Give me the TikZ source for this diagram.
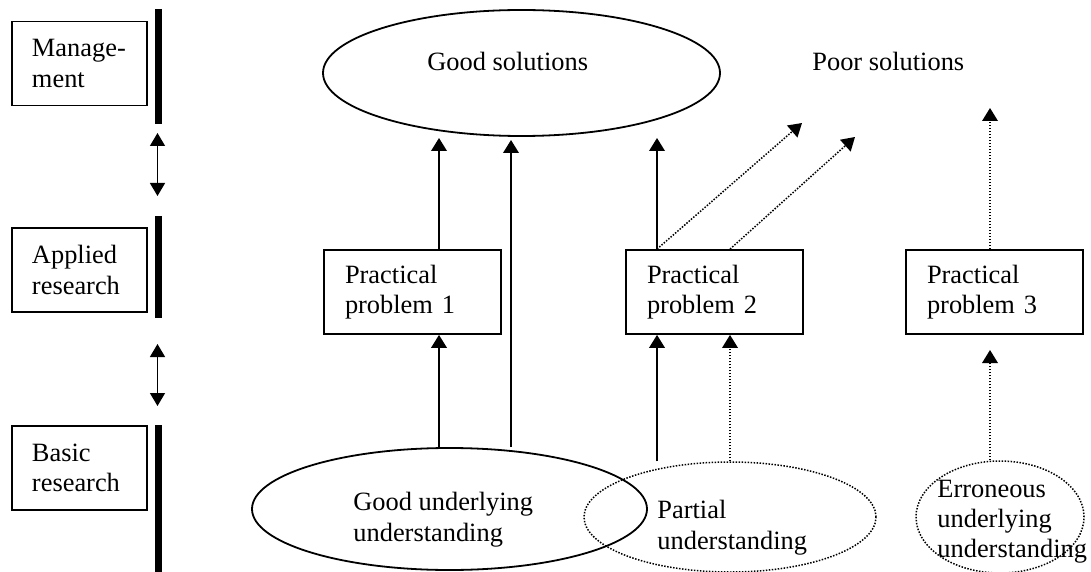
\documentclass[tikz,border=0pt]{standalone}
\usepackage{fontspec}
\setmainfont{Liberation Serif}
\usetikzlibrary{arrows.meta,shapes.geometric}
\begin{document}
\begin{tikzpicture}[x=0.5pt,y=-0.5pt,
  txt/.style={font=\fontsize{13.2}{15.2}\selectfont},
  lbox/.style={draw,line width=0.9pt,rectangle,txt,align=left,text width=47.5pt,inner xsep=10pt,inner ysep=0pt,minimum height=42pt},
  pbox/.style={draw,line width=0.9pt,rectangle,txt,align=left,text width=67.5pt,inner xsep=10.5pt,inner ysep=0pt,minimum height=42pt},
  ell/.style={draw,line width=0.9pt,ellipse,inner sep=0pt},
  dell/.style={ell,line width=0.75pt,dash pattern=on 0.75pt off 0.75pt},
  lbl/.style={txt,inner sep=0pt,align=left},
  tip/.style={-{Triangle[length=6.5pt,width=7.8pt]}},
  sarr/.style={tip,line width=0.9pt},
  darr/.style={tip,line width=0.75pt,dash pattern=on 0.75pt off 0.75pt},
  both/.style={{Triangle[length=6.5pt,width=7.5pt]}-{Triangle[length=6.5pt,width=7.5pt]},line width=0.7pt},
  bar/.style={line width=3.6pt}
]
\useasboundingbox (0,0) rectangle (1091,572);

% left column
\node[lbox] (mg) at (79.5,63.5) {Manage-\\ment};
\node[lbox] (ap) at (79.5,270) {Applied\\research};
\node[lbox] (bs) at (79.5,468) {Basic\\research};
\coordinate (b1a) at (158.5,9);   \coordinate (b1b) at (158.5,124);
\coordinate (b2a) at (158.5,216); \coordinate (b2b) at (158.5,318);
\coordinate (b3a) at (158.5,425); \coordinate (b3b) at (158.5,574);
\draw[bar] (b1a) -- (b1b);
\draw[bar] (b2a) -- (b2b);
\draw[bar] (b3a) -- (b3b);
\coordinate (d1a) at (157.5,133); \coordinate (d1b) at (157.5,196);
\coordinate (d2a) at (157.5,344); \coordinate (d2b) at (157.5,406);
\draw[both] (d1a) -- (d1b);
\draw[both] (d2a) -- (d2b);

% top level
\node[ell,minimum width=198.5pt,minimum height=63pt] (gs) at (521.5,73) {};
\node[lbl,anchor=base west] (gst) at (427,71) {Good solutions};
\node[lbl,anchor=base west] (ps) at (812,71) {Poor solutions};

% practical problems
\node[pbox] (pp1) at (412.5,292) {Practical\\problem 1};
\node[pbox] (pp2) at (714.5,292) {Practical\\problem 2};
\node[pbox] (pp3) at (994.5,292) {Practical\\problem 3};

% understanding ellipses
\node[ell,minimum width=197.5pt,minimum height=61pt] (gu) at (449.5,509) {};
\node[dell,minimum width=146pt,minimum height=55pt] (pu) at (730,517) {};
\node[dell,minimum width=84pt,minimum height=56pt] (eu) at (1000,517) {};
\node[lbl,anchor=north west] (gut) at (353,492) {Good underlying\\understanding};
\node[lbl,anchor=north west] (put) at (657,500) {Partial\\understanding};
\node[lbl,anchor=north west] (eut) at (937,479.5) {Erroneous\\underlying\\understanding};

% connectors
\coordinate (t1) at (439,138);
\coordinate (t2) at (511,140);
\coordinate (t3) at (657,138);
\coordinate (t4) at (802,123);
\coordinate (t5) at (855,137);
\coordinate (t6) at (990,108);
\coordinate (t7) at (990,350);

\draw[sarr] (pp1.north -| t1) -- (t1);
\draw[sarr] (gu.north -| t1) -- (pp1.south -| t1);
\draw[sarr] (gu.north -| t2) -- (t2);

\draw[sarr] (pp2.north -| t3) -- (t3);
\draw[darr] (pp2.north -| t3) -- (t4);
\draw[darr] (pp2.north -| pu.north) -- (t5);
\draw[sarr] (pu.north -| t3) -- (pp2.south -| t3);
\draw[darr] (pu.north) -- (pp2.south -| pu.north);

\draw[darr] (pp3.north -| t6) -- (t6);
\draw[darr] (eu.north -| t7) -- (t7);
\end{tikzpicture}
\end{document}
